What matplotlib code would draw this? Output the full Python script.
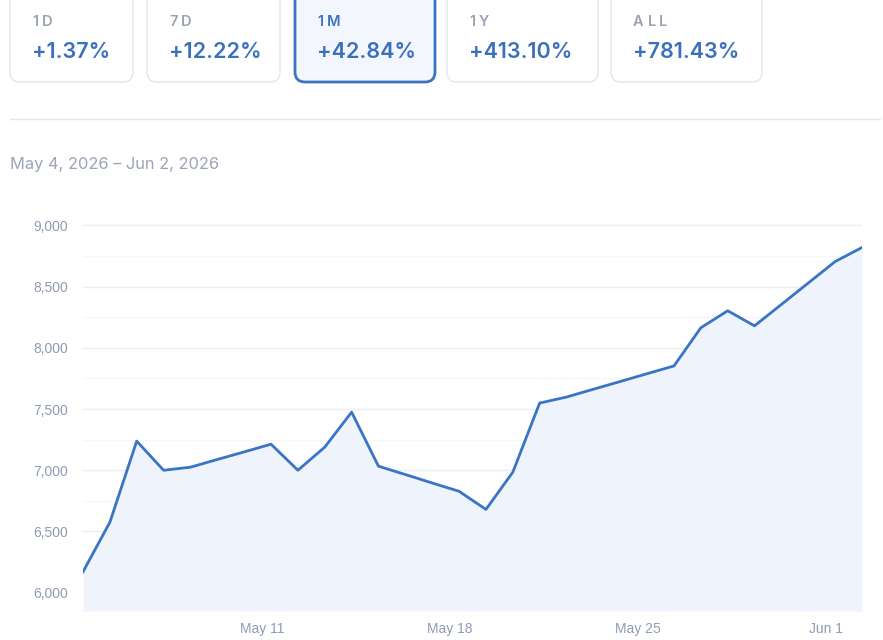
"""Portfolio value card strip + 1M area chart."""

import matplotlib
matplotlib.use("Agg")
import matplotlib.pyplot as plt
from matplotlib.patches import FancyBboxPatch
from matplotlib.textpath import TextPath
from matplotlib.font_manager import FontProperties
from matplotlib.ticker import FuncFormatter, MultipleLocator
import pandas as pd

# ---- data ----
period_labels = ["1D", "7D", "1M", "1Y", "ALL"]
period_changes = ["+1.37%", "+12.22%", "+42.84%", "+413.10%", "+781.43%"]
selected_period = "1M"
date_range_text = "May 4, 2026 \u2013 Jun 2, 2026"

values = [
    6170, 6575, 7238, 7000, 7025, 7088, 7150, 7213, 7000, 7189,
    7475, 7033, 6965, 6896, 6828, 6680, 6984, 7549, 7598, 7662,
    7725, 7789, 7852, 8164, 8303, 8180, 8355, 8530, 8705, 8820,
]
dates = pd.date_range("2026-05-04 08:00", periods=len(values), freq="D")
x_tick_dates = pd.to_datetime(["2026-05-11", "2026-05-18", "2026-05-25", "2026-06-01"])
x_tick_labels = ["May 11", "May 18", "May 25", "Jun 1"]

# ---- style ----
W, H = 883, 640
LINE = "#3a74c4"
FILL = "#eff3fb"
MUTED = "#8f9bb3"
CARD_BORDER = "#e2e6ef"
VALUE_BLUE = "#3b70bd"
LABEL_GRAY = "#9aa1b2"
FONT = "Inter"

fig = plt.figure(figsize=(W / 100, H / 100), dpi=100)
fig.patch.set_facecolor("white")

# overlay in pixel coords for cards / header
ov = fig.add_axes([0, 0, 1, 1])
ov.set_xlim(0, W)
ov.set_ylim(H, 0)
ov.axis("off")

card_x = [10, 147, 295, 447, 611]
card_w = [123, 133, 140, 151, 151]
label_fp = FontProperties(family=FONT, weight="semibold", size=10.5)


def tracked_text(x, y, s, fp, tracking, color):
    # draw text char by char with letter spacing (px)
    bar = TextPath((0, 0), "|", prop=fp).get_extents().width
    for ch in s:
        ov.text(x, y, ch, fontproperties=fp, color=color, va="center", ha="left", zorder=3)
        adv = TextPath((0, 0), ch + "|", prop=fp).get_extents().width - bar
        x += adv * 100 / 72 + tracking


for x0, w, lab, val in zip(card_x, card_w, period_labels, period_changes):
    sel = lab == selected_period
    box = FancyBboxPatch(
        (x0, -14), w, 96,
        boxstyle="round,pad=0,rounding_size=10",
        facecolor="#f3f7fd" if sel else "white",
        edgecolor=LINE if sel else CARD_BORDER,
        linewidth=2.0 if sel else 1.0,
        zorder=2,
    )
    ov.add_patch(box)
    tracked_text(x0 + 22, 21.5, lab, label_fp, 2.6, LINE if sel else LABEL_GRAY)
    ov.text(x0 + 22, 51.5, val, family=FONT, weight="semibold", size=15.5,
            color=VALUE_BLUE, va="center", ha="left", zorder=3)

ov.plot([10, 880], [119, 119], color="#e4e7ee", lw=1.0)
ov.text(10, 164, date_range_text, family=FONT, size=11.8, color="#9aa3b8",
        va="center", ha="left")

# ---- chart ----
left, right, bottom, top = 83, 862, 611, 212
ax = fig.add_axes([left / W, (H - bottom) / H, (right - left) / W, (bottom - top) / H])
ax.set_facecolor("none")

base = 5850
ax.fill_between(dates, values, base, color=FILL, lw=0, zorder=1)
ax.plot(dates, values, color=LINE, lw=2.0, solid_joinstyle="round", zorder=3)

ax.set_xlim(dates[0], dates[-1])
ax.set_ylim(base, 9110)

ax.yaxis.set_major_locator(MultipleLocator(500))
ax.yaxis.set_minor_locator(MultipleLocator(250))
ax.yaxis.set_major_formatter(FuncFormatter(lambda v, p: f"{v:,.0f}"))
ax.grid(axis="y", which="major", color="#eceef5", lw=1.0, zorder=0)
ax.grid(axis="y", which="minor", color="#f5f6fa", lw=1.0, zorder=0)
ax.set_axisbelow(True)

ax.set_xticks(x_tick_dates)
ax.set_xticklabels(x_tick_labels)

for s in ax.spines.values():
    s.set_visible(False)
ax.tick_params(axis="both", which="both", length=0, colors=MUTED, labelsize=10)
ax.tick_params(axis="y", pad=10.5)
ax.tick_params(axis="x", pad=8)
for t in ax.get_xticklabels() + ax.get_yticklabels():
    t.set_family("Liberation Sans")
    t.set_color(MUTED)

fig.savefig("out.png", dpi=100)
